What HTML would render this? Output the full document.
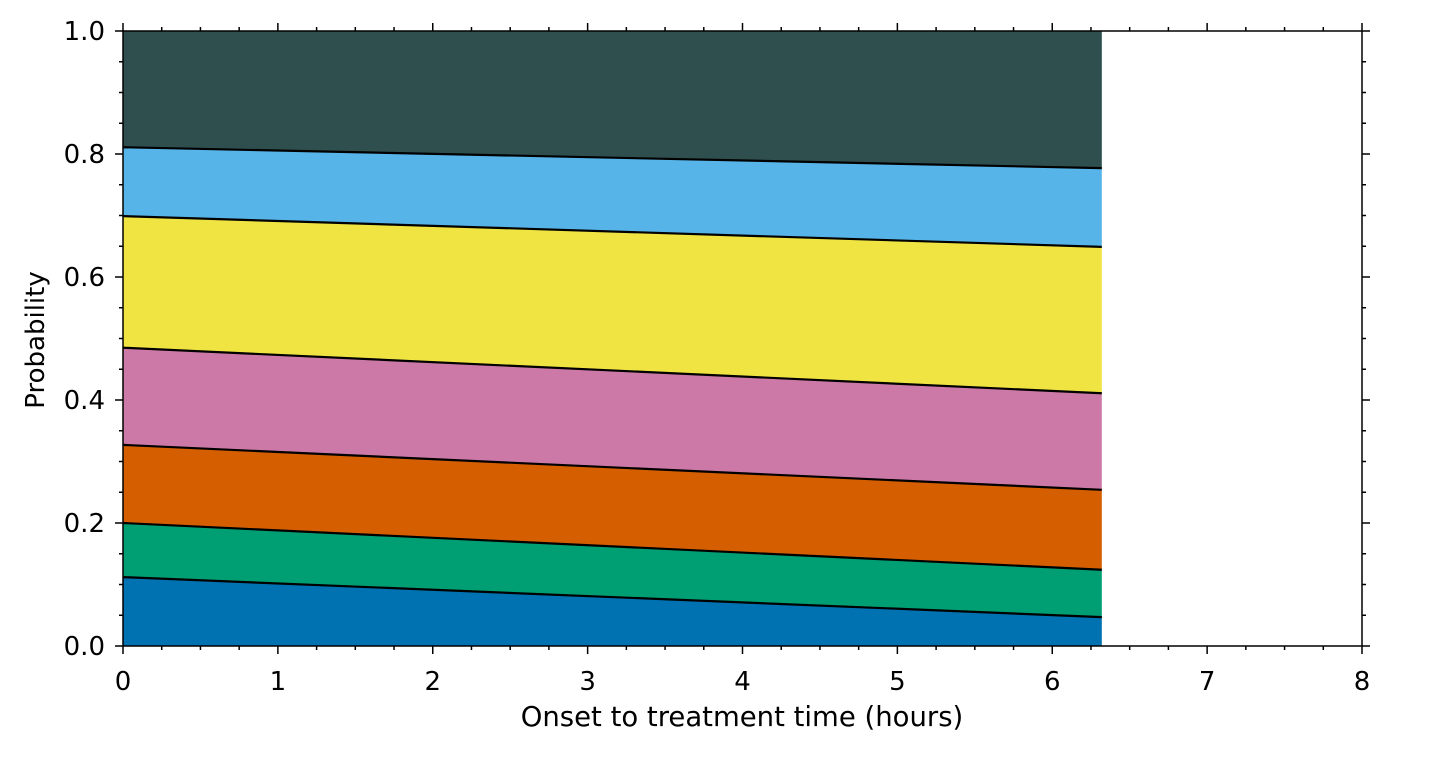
<!DOCTYPE html>
<html><head><meta charset="utf-8"><style>
body{margin:0;background:#fff;}
svg text{font-family:"DejaVu Sans","Liberation Sans",sans-serif;fill:#000;}
</style></head><body>
<svg id="chart" width="1453" height="753" xmlns="http://www.w3.org/2000/svg">
<g id="areas"></g>
<g id="axes"></g>
<text x="742" y="726" text-anchor="middle" font-size="27.5">Onset to treatment time (hours)</text>
<text transform="translate(44,340) rotate(-90)" text-anchor="middle" font-size="26">Probability</text>
</svg>
<script>
const times = [0, 6.32];
const boundary1 = [0.112, 0.047];
const boundary2 = [0.200, 0.124];
const boundary3 = [0.327, 0.254];
const boundary4 = [0.485, 0.411];
const boundary5 = [0.699, 0.649];
const boundary6 = [0.811, 0.777];
const bandColors = ["#0072b2","#009e73","#d55e00","#cc79a7","#f0e442","#56b4e9","#2f4f4f"];
const xTicks = [0,1,2,3,4,5,6,7,8];
const yTicks = [0.0,0.2,0.4,0.6,0.8,1.0];

const X0=123,X1=1362,Y0=646,Y1=31;
const sx=v=>X0+(v-0)/8*(X1-X0);
const sy=v=>Y0-(v-0)/1*(Y0-Y1);
const NS="http://www.w3.org/2000/svg";
const areas=document.getElementById('areas');
const axes=document.getElementById('axes');
const zeros=times.map(()=>0), ones=times.map(()=>1);
const bounds=[zeros,boundary1,boundary2,boundary3,boundary4,boundary5,boundary6,ones];
for(let i=0;i<7;i++){
  const lo=bounds[i],hi=bounds[i+1];
  let pts=times.map((t,j)=>sx(t)+','+sy(hi[j]));
  pts=pts.concat(times.map((t,j)=>sx(t)+','+sy(lo[j])).reverse());
  const p=document.createElementNS(NS,'polygon');
  p.setAttribute('points',pts.join(' '));
  p.setAttribute('fill',bandColors[i]);
  
  
  areas.appendChild(p);
}
for(let i=1;i<7;i++){
  const l=document.createElementNS(NS,'polyline');
  l.setAttribute('points',times.map((t,j)=>sx(t)+','+sy(bounds[i][j])).join(' '));
  l.setAttribute('fill','none');l.setAttribute('stroke','#000');l.setAttribute('stroke-width','2.2');
  
  
  areas.appendChild(l);
}
function line(x1,y1,x2,y2,w){const l=document.createElementNS(NS,'line');
  l.setAttribute('x1',x1);l.setAttribute('y1',y1);l.setAttribute('x2',x2);l.setAttribute('y2',y2);
  l.setAttribute('stroke','#000');l.setAttribute('stroke-width',w||1.5);
  
  
  axes.appendChild(l);}
function text(x,y,s,anchor){const t=document.createElementNS(NS,'text');
  t.setAttribute('x',x);t.setAttribute('y',y);t.setAttribute('font-size','26');t.setAttribute('text-anchor',anchor);t.textContent=s;
  
  
  axes.appendChild(t);}
const frame=document.createElementNS(NS,'rect');
frame.setAttribute('x',X0);frame.setAttribute('y',Y1);frame.setAttribute('width',X1-X0);frame.setAttribute('height',Y0-Y1);
frame.setAttribute('fill','none');frame.setAttribute('stroke','#000');frame.setAttribute('stroke-width','1.5');


axes.appendChild(frame);
for(let v=0;v<=8.001;v+=0.25){const x=sx(v);const major=Math.abs(v-Math.round(v))<1e-6;const L=major?8:4;
  line(x,Y0,x,Y0+L);line(x,Y1,x,Y1-L);}
for(let v=0;v<=1.0001;v+=0.05){const y=sy(v);const major=Math.abs(v*5-Math.round(v*5))<1e-6;const L=major?8:4;
  line(X0,y,X0-L,y);line(X1,y,X1+L,y);}
xTicks.forEach(v=>text(sx(v),sy(0)+44,String(v),'middle'));
yTicks.forEach(v=>text(X0-18,sy(v)+9,v.toFixed(1),'end'));
</script>
</body></html>
